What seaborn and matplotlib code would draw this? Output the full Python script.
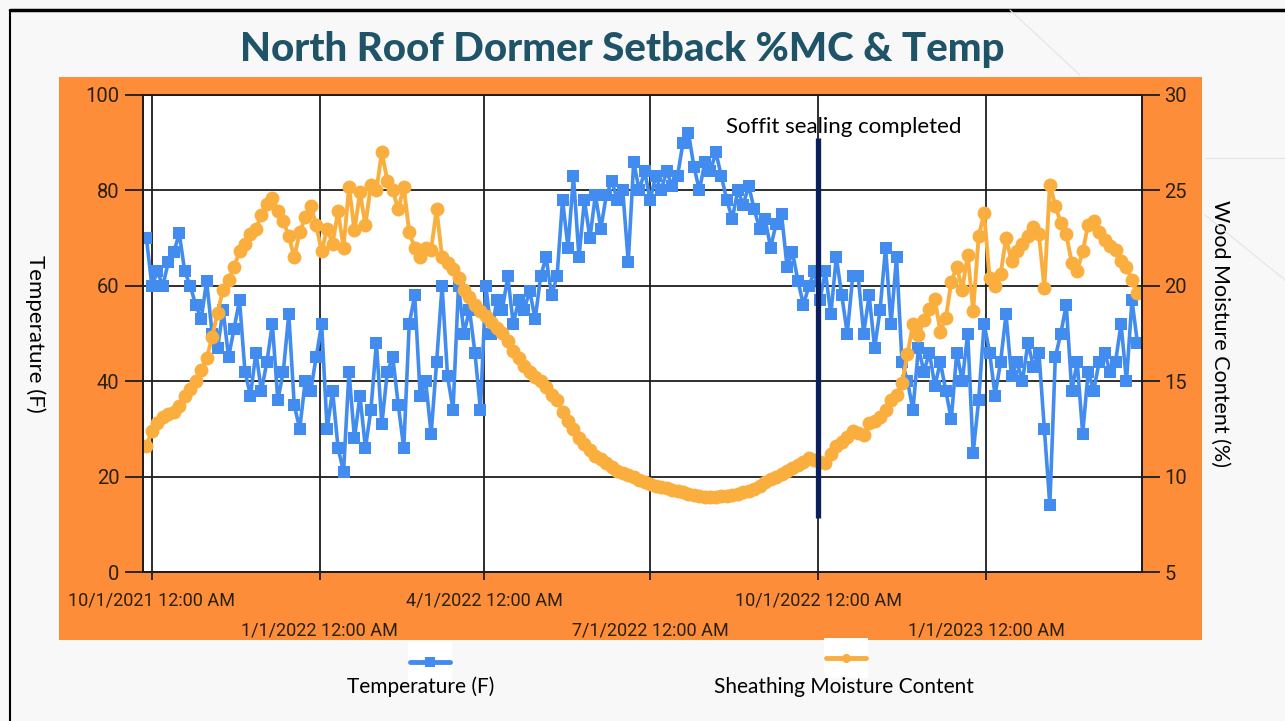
import numpy as np
import pandas as pd
import matplotlib
matplotlib.use("Agg")
import matplotlib.pyplot as plt
from matplotlib.patches import Rectangle
from matplotlib.lines import Line2D
import seaborn as sns

# Readings logged every 3 days, starting 28 Sep 2021
start_date = "2021-09-28"
step_days = 3

temperature_f = [
    70, 60, 63, 60, 65, 67, 71, 63, 60, 56,
    53, 61, 50, 47, 55, 45, 51, 57, 42, 37,
    46, 38, 44, 52, 36, 42, 54, 35, 30, 40,
    38, 45, 52, 30, 38, 26, 21, 42, 28, 37,
    26, 34, 48, 31, 42, 45, 35, 26, 52, 58,
    37, 40, 29, 44, 60, 41, 34, 60, 50, 55,
    46, 34, 60, 50, 57, 55, 62, 52, 57, 55,
    59, 53, 62, 66, 58, 62, 78, 68, 83, 66,
    78, 70, 79, 72, 79, 82, 78, 80, 65, 86,
    80, 84, 78, 83, 80, 84, 81, 83, 90, 92,
    85, 80, 86, 84, 88, 83, 78, 74, 80, 77,
    81, 76, 72, 74, 68, 73, 75, 64, 67, 61,
    56, 60, 63, 57, 63, 54, 66, 58, 50, 62,
    62, 50, 58, 47, 55, 68, 52, 66, 44, 40,
    34, 47, 42, 46, 39, 44, 38, 32, 46, 40,
    50, 25, 36, 52, 46, 37, 44, 54, 41, 44,
    40, 48, 43, 46, 30, 14, 45, 50, 56, 38,
    44, 29, 42, 38, 44, 46, 42, 44, 52, 40,
    57, 48,
]

moisture_pct = [
    11.6, 12.4, 12.8, 13.1, 13.3, 13.4, 13.7, 14.2, 14.6, 15.0,
    15.6, 16.2, 17.3, 18.6, 19.8, 20.3, 21.0, 21.8, 22.2, 22.7,
    23.0, 23.7, 24.3, 24.6, 23.9, 23.4, 22.6, 21.5, 22.8, 23.6,
    24.2, 23.2, 21.8, 23.0, 22.2, 23.9, 22.0, 25.2, 22.9, 24.9,
    23.2, 25.3, 25.0, 27.0, 25.5, 25.0, 24.0, 25.2, 22.8, 22.0,
    21.5, 22.0, 21.9, 24.0, 21.5, 21.2, 20.9, 20.4, 19.8, 19.4,
    19.0, 18.7, 18.4, 18.1, 17.8, 17.5, 17.1, 16.6, 16.2, 15.8,
    15.5, 15.2, 15.0, 14.7, 14.3, 14.0, 13.4, 12.9, 12.5, 12.0,
    11.7, 11.4, 11.1, 10.9, 10.7, 10.5, 10.3, 10.2, 10.1, 10.0,
    9.8, 9.7, 9.6, 9.5, 9.45, 9.4, 9.3, 9.25, 9.2, 9.1,
    9.05, 9.0, 8.95, 8.95, 8.95, 9.0, 9.0, 9.05, 9.1, 9.2,
    9.25, 9.35, 9.5, 9.7, 9.9, 10.0, 10.15, 10.3, 10.45, 10.6,
    10.75, 11.0, 10.85, 10.75, 10.7, 11.2, 11.6, 11.8, 12.1, 12.4,
    12.3, 12.2, 12.8, 12.9, 13.1, 13.5, 14.0, 14.3, 14.9, 16.4,
    18.0, 17.4, 18.2, 18.8, 19.3, 17.6, 18.3, 20.2, 21.0, 19.8,
    21.6, 18.7, 22.6, 23.8, 20.4, 20.0, 20.6, 22.5, 21.3, 21.8,
    22.2, 22.6, 23.1, 22.7, 19.9, 25.3, 24.2, 23.3, 22.7, 21.2,
    20.8, 21.8, 23.2, 23.4, 22.8, 22.4, 22.1, 21.9, 21.3, 21.0,
    20.3, 19.6,
]

tick_dates = ["2021-10-01", "2022-01-01", "2022-04-01",
              "2022-07-01", "2022-10-01", "2023-01-01"]
tick_labels = ["10/1/2021 12:00 AM", "1/1/2022 12:00 AM", "4/1/2022 12:00 AM",
               "7/1/2022 12:00 AM", "10/1/2022 12:00 AM", "1/1/2023 12:00 AM"]
temp_ticks = [0, 20, 40, 60, 80, 100]
mc_ticks = [5, 10, 15, 20, 25, 30]

event_date = "2022-10-01"
event_label = "Soffit sealing completed"
event_low, event_high = 11.3, 91.0

series_names = ["Temperature (F)", "Sheathing Moisture Content"]
title = "North Roof Dormer Setback %MC & Temp"

BLUE = "#428BEF"
GOLD = "#FAAE3E"
ORANGE_BG = "#FD8D38"
NAVY = "#0B1F5E"
TEAL = "#1F5468"
SLIDE_BG = "#F8F8F8"

sns.set_style("white")
plt.rcParams["font.family"] = ["Lato", "DejaVu Sans"]

dates = pd.date_range(start_date, periods=len(temperature_f), freq=f"{step_days}D")
df = pd.DataFrame({"date": dates, "temp": temperature_f, "mc": moisture_pct})

W, H = 1285, 721
fig = plt.figure(figsize=(W / 100, H / 100), dpi=100, facecolor=SLIDE_BG)

def fx(px):
    return px / W

def fy(py):
    return 1 - py / H

# slide frame
fig.add_artist(Line2D([fx(10), fx(10)], [0, fy(10)], color="black", lw=1.5, transform=fig.transFigure))
fig.add_artist(Line2D([fx(10), 1], [fy(10), fy(10)], color="black", lw=2.5, transform=fig.transFigure))
# faint decorative strokes on the slide
fig.add_artist(Line2D([fx(1010), fx(1080)], [fy(10), fy(75)], color="#e4e4e4", lw=0.8, transform=fig.transFigure))
fig.add_artist(Line2D([fx(1205), fx(1285)], [fy(158), fy(158)], color="#e4e4e4", lw=0.8, transform=fig.transFigure))
fig.add_artist(Line2D([fx(1205), fx(1285)], [fy(215), fy(280)], color="#e4e4e4", lw=0.8, transform=fig.transFigure))

# orange chart panel
fig.add_artist(Rectangle((fx(59), fy(640)), fx(1202) - fx(59), fy(77) - fy(640),
                         transform=fig.transFigure, facecolor=ORANGE_BG,
                         edgecolor="none", zorder=-1))

ax = fig.add_axes([fx(143), fy(572), fx(1142) - fx(143), fy(95) - fy(572)])
ax.set_facecolor("white")

sns.lineplot(data=df, x="date", y="temp", ax=ax, color=BLUE, lw=2.6,
             marker="s", markersize=9, markeredgewidth=0, markerfacecolor=BLUE,
             estimator=None, sort=False, legend=False)

ax2 = ax.twinx()
sns.lineplot(data=df, x="date", y="mc", ax=ax2, color=GOLD, lw=2.8,
             marker="o", markersize=10, markeredgewidth=0, markerfacecolor=GOLD,
             estimator=None, sort=False, legend=False)

ax.set_xlim(pd.Timestamp("2021-09-26 03:00"), pd.Timestamp("2023-03-27 12:00"))
ax.set_ylim(0, 100)
ax2.set_ylim(5, 30)

ax.set_yticks(temp_ticks)
ax2.set_yticks(mc_ticks)
ax.set_xticks(pd.to_datetime(tick_dates))
ax.set_xticklabels([lab if k % 2 == 0 else "\n" + lab for k, lab in enumerate(tick_labels)],
                   family=["Roboto", "DejaVu Sans"], fontsize=13, color="#2a2010")
for lbl in ax.get_xticklabels():
    lbl.set_linespacing(1.85)

ax.grid(True, color="#1e1e1e", lw=1.3)
ax.set_axisbelow(True)
ax2.grid(False)

for a in (ax, ax2):
    for s in a.spines.values():
        s.set_color("#1e1e1e")
        s.set_linewidth(1.4)

ax.tick_params(axis="y", length=13, width=1.3, pad=4, labelsize=14.5,
               labelcolor="#2a2010", color="#1e1e1e", left=True)
ax.tick_params(axis="x", length=6, width=1.3, pad=8, color="#1e1e1e", bottom=True)
ax2.tick_params(axis="y", length=13, width=1.3, pad=3, labelsize=14.5,
                labelcolor="#2a2010", color="#1e1e1e", right=True)
for lbl in ax.get_yticklabels() + ax2.get_yticklabels():
    lbl.set_family(["Roboto", "DejaVu Sans"])

ax.set_xlabel("")
ax.set_ylabel(series_names[0], rotation=-90, fontsize=16, color="black", va="center")
ax.yaxis.set_label_coords((35 - 143) / 999, 0.5)
ax2.set_ylabel("Wood Moisture Content (%)", rotation=-90, fontsize=15.5, color="black", va="center")
ax2.yaxis.set_label_coords((1220 - 143) / 999, 0.5)

# sealing event marker
ev = pd.Timestamp(event_date)
ax2.vlines(ev, 5 + event_low / 4, 5 + event_high / 4, color=NAVY, lw=3.8, zorder=10)
ax2.text(ev + pd.Timedelta(days=14), 5 + 93.3 / 4, event_label, ha="center", va="center",
         fontsize=16, color="black", zorder=11)

fig.text(fx(622), fy(50), title, ha="center", va="center", fontsize=29,
         fontweight="black", color=TEAL)

# legend below the panel
for cx, cy, col, mk, name, tx in [(430, 662, BLUE, "s", series_names[0], 421),
                                  (846, 658, GOLD, "o", series_names[1], 844)]:
    fig.add_artist(Rectangle((fx(cx - 22), fy(cy + 20)), fx(44), fy(0) - fy(40),
                             transform=fig.transFigure, facecolor="white", edgecolor="none"))
    fig.add_artist(Line2D([fx(cx - 20), fx(cx), fx(cx + 20)], [fy(cy)] * 3, color=col, lw=3.5,
                          marker=mk, markersize=6.5, markevery=[1], markeredgewidth=0,
                          transform=fig.transFigure))
    fig.text(fx(tx), fy(687), name, ha="center", va="center", fontsize=15, color="black")

fig.savefig("out.png", dpi=100, facecolor=SLIDE_BG)
